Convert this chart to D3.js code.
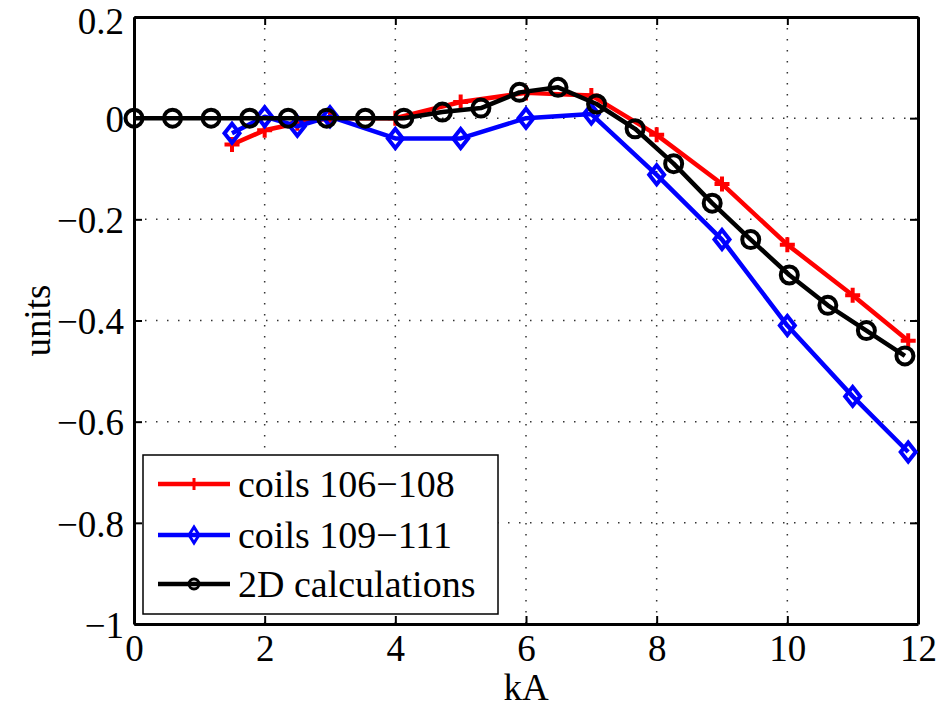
<!DOCTYPE html>
<html>
<head>
<meta charset="utf-8">
<script src="https://cdn.jsdelivr.net/npm/d3@7"></script>
<style>
  body { margin: 0; background: #fff; }
  text { font-family: "Liberation Serif", "Times New Roman", serif; }
</style>
</head>
<body>
<div id="chart"></div>
<script>
// data
var redX = [1.5, 2, 2.5, 3, 4, 5, 6, 7, 8, 9, 10, 11, 11.85];
var redY = [-0.052, -0.024, -0.01, 0, 0, 0.032, 0.05, 0.045, -0.033, -0.13, -0.25, -0.35, -0.44];
var blueX = [1.5, 2, 2.5, 3, 4, 5, 6, 7, 8, 9, 10, 11, 11.85];
var blueY = [-0.03, 0.003, -0.016, 0.003, -0.04, -0.04, 0, 0.008, -0.112, -0.24, -0.41, -0.55, -0.66];
var blackX = [0, 0.59, 1.18, 1.77, 2.36, 2.95, 3.54, 4.13, 4.72, 5.31, 5.9, 6.49, 7.08, 7.67, 8.26, 8.85, 9.44, 10.03, 10.62, 11.21, 11.8];
var blackY = [0, 0, 0, 0, 0, 0, 0, 0, 0.012, 0.02, 0.051, 0.061, 0.028, -0.021, -0.09, -0.168, -0.24, -0.31, -0.37, -0.42, -0.47];
var xTicks = [0, 2, 4, 6, 8, 10, 12];
var yTicks = [0.2, 0, -0.2, -0.4, -0.6, -0.8, -1];
var seriesNames = ["coils 106\u2212108", "coils 109\u2212111", "2D calculations"];

var width = 941;
var height = 707;
var padding = { left: 134, right: 23, top: 17, bottom: 83 };
var fontSize = 37;
var legendFont = 38;

var svg = d3.select("#chart")
    .append("svg")
    .attr("width", width)
    .attr("height", height)
    .style("background", "#fff");

var x = d3.scaleLinear().domain([0, 12]).range([padding.left, width - padding.right]);
var y = d3.scaleLinear().domain([-1, 0.2]).range([height - padding.bottom, padding.top]);

// dotted grid
svg.append("g")
    .selectAll("line")
    .data(xTicks.slice(1, -1))
    .enter()
    .append("line")
    .attr("x1", function (d) { return x(d); })
    .attr("x2", function (d) { return x(d); })
    .attr("y1", y(0.2))
    .attr("y2", y(-1))
    .attr("stroke", "#333")
    .attr("stroke-width", 1.5)
    .attr("stroke-dasharray", "1.5,9.5");

svg.append("g")
    .selectAll("line")
    .data(yTicks.slice(1, -1))
    .enter()
    .append("line")
    .attr("x1", x(0))
    .attr("x2", x(12))
    .attr("y1", function (d) { return y(d); })
    .attr("y2", function (d) { return y(d); })
    .attr("stroke", "#333")
    .attr("stroke-width", 1.5)
    .attr("stroke-dasharray", "1.5,9.5");

// axes, ticks pointing inward on all four sides
var fmt = function (d) { return d3.format("")(d).replace("-", "\u2212"); };

var xBottom = svg.append("g")
    .attr("transform", "translate(0," + y(-1) + ")")
    .call(d3.axisBottom(x).tickValues(xTicks).tickSizeInner(-8).tickSizeOuter(0).tickPadding(20).tickFormat(fmt));
var xTop = svg.append("g")
    .attr("transform", "translate(0," + y(0.2) + ")")
    .call(d3.axisTop(x).tickValues(xTicks).tickSizeInner(-8).tickSizeOuter(0).tickFormat(""));
var yLeft = svg.append("g")
    .attr("transform", "translate(" + x(0) + ",0)")
    .call(d3.axisLeft(y).tickValues(yTicks).tickSizeInner(-8).tickSizeOuter(0).tickPadding(20).tickFormat(fmt));
var yRight = svg.append("g")
    .attr("transform", "translate(" + x(12) + ",0)")
    .call(d3.axisRight(y).tickValues(yTicks).tickSizeInner(-8).tickSizeOuter(0).tickFormat(""));

[xBottom, xTop, yLeft, yRight].forEach(function (g) {
    g.select(".domain").attr("stroke", "#000").attr("stroke-width", 3);
    g.selectAll(".tick line").attr("stroke", "#000").attr("stroke-width", 2);
    g.selectAll(".tick text")
        .attr("fill", "#000")
        .style("font-family", "'Liberation Serif', serif")
        .style("font-size", fontSize + "px");
});
xBottom.selectAll(".tick text").attr("dy", "0.71em").attr("y", 11);
yLeft.selectAll(".tick text")
    .attr("x", -10)
    .attr("dy", "0.36em")
    // top label sits against the page edge; nudge it so it is not clipped
    .attr("y", function (d) { return d == 0.2 ? 3 : 0; });

// axis titles
svg.append("text")
    .attr("x", (x(0) + x(12)) / 2)
    .attr("y", 700)
    .attr("text-anchor", "middle")
    .attr("font-size", fontSize + "px")
    .text("kA");

svg.append("text")
    .attr("transform", "translate(50," + (y(0.2) + y(-1)) / 2 + ") rotate(-90)")
    .attr("text-anchor", "middle")
    .attr("font-size", fontSize + "px")
    .text("units");

// markers
function plusPath(s) { return "M" + (-s) + ",0H" + s + "M0," + (-s) + "V" + s; }
function diamondPath(w, h) { return "M0," + (-h) + "L" + w + ",0L0," + h + "L" + (-w) + ",0Z"; }

var line = d3.line()
    .x(function (d) { return x(d[0]); })
    .y(function (d) { return y(d[1]); });

var series = [
    { xs: redX, ys: redY, color: "#ff0000", marker: "plus" },
    { xs: blueX, ys: blueY, color: "#0000ff", marker: "diamond" },
    { xs: blackX, ys: blackY, color: "#000000", marker: "circle" }
];

series.forEach(function (s) {
    var pts = s.xs.map(function (v, i) { return [v, s.ys[i]]; });
    svg.append("path")
        .datum(pts)
        .attr("d", line)
        .attr("fill", "none")
        .attr("stroke", s.color)
        .attr("stroke-width", 4.5)
        .attr("stroke-linejoin", "round");

    var m = svg.append("g")
        .selectAll("g")
        .data(pts)
        .enter()
        .append("g")
        .attr("transform", function (d) { return "translate(" + x(d[0]) + "," + y(d[1]) + ")"; });

    if (s.marker == "circle") {
        m.append("circle").attr("r", 8.5).attr("fill", "none").attr("stroke", s.color).attr("stroke-width", 4);
    } else if (s.marker == "diamond") {
        m.append("path").attr("d", diamondPath(7.5, 9.5)).attr("fill", "none").attr("stroke", s.color).attr("stroke-width", 4);
    } else {
        m.append("path").attr("d", plusPath(7.5)).attr("fill", "none").attr("stroke", s.color).attr("stroke-width", 4);
    }
});

// legend
var legend = svg.append("g");
legend.append("rect")
    .attr("x", 143)
    .attr("y", 455)
    .attr("width", 355)
    .attr("height", 159)
    .attr("fill", "#fff")
    .attr("stroke", "#000")
    .attr("stroke-width", 1.5);

var rowY = [484, 535, 584];
series.forEach(function (s, i) {
    var g = legend.append("g").attr("transform", "translate(0," + rowY[i] + ")");
    g.append("line")
        .attr("x1", 158).attr("x2", 230)
        .attr("y1", 0).attr("y2", 0)
        .attr("stroke", s.color)
        .attr("stroke-width", 4.5);
    var mg = g.append("g").attr("transform", "translate(194,0)");
    if (s.marker == "circle") {
        mg.append("circle").attr("r", 5).attr("fill", "none").attr("stroke", s.color).attr("stroke-width", 3);
    } else if (s.marker == "diamond") {
        mg.append("path").attr("d", diamondPath(5, 8)).attr("fill", "none").attr("stroke", s.color).attr("stroke-width", 3);
    } else {
        mg.append("path").attr("d", plusPath(6)).attr("fill", "none").attr("stroke", s.color).attr("stroke-width", 3);
    }
    g.append("text")
        .attr("x", 238)
        .attr("y", 13)
        .attr("font-size", legendFont + "px")
        .text(seriesNames[i]);
});
</script>
</body>
</html>
